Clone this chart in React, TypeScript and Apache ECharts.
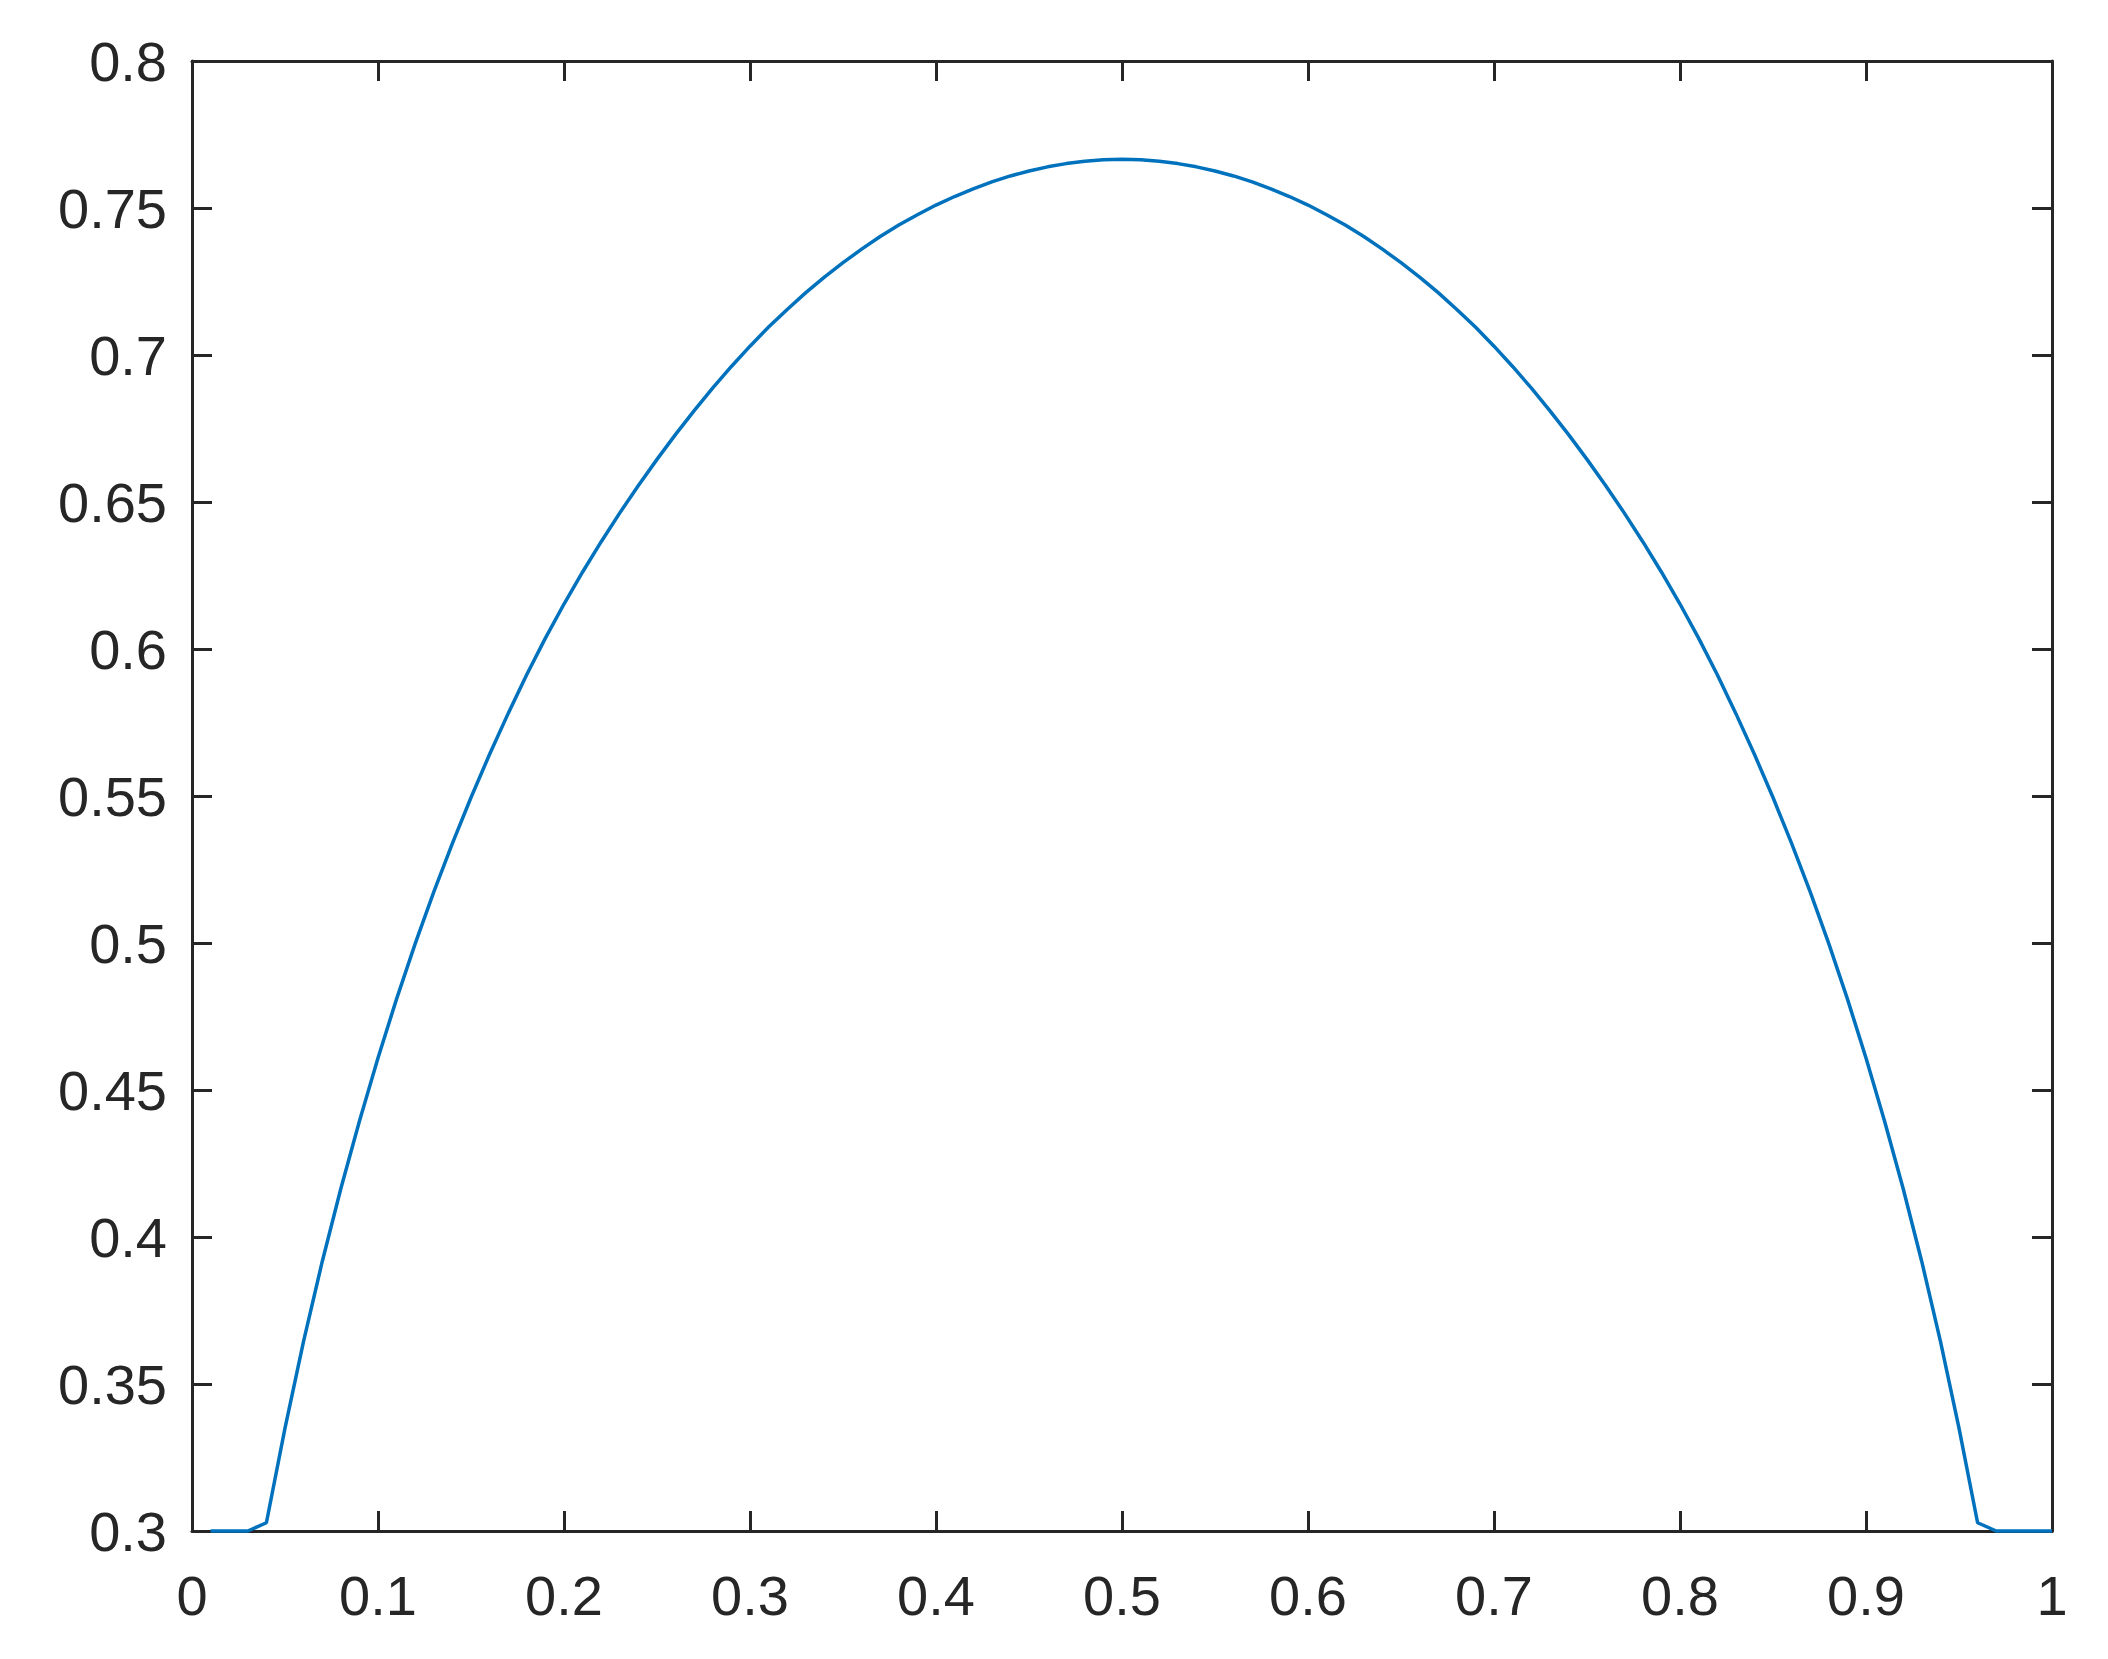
import React, { useEffect, useRef } from "react";
import * as echarts from "echarts";

const xValues = [
  0.01, 0.02, 0.03, 0.04, 0.05, 0.06, 0.07, 0.08, 0.09, 0.1,
  0.11, 0.12, 0.13, 0.14, 0.15, 0.16, 0.17, 0.18, 0.19, 0.2,
  0.21, 0.22, 0.23, 0.24, 0.25, 0.26, 0.27, 0.28, 0.29, 0.3,
  0.31, 0.32, 0.33, 0.34, 0.35, 0.36, 0.37, 0.38, 0.39, 0.4,
  0.41, 0.42, 0.43, 0.44, 0.45, 0.46, 0.47, 0.48, 0.49, 0.5,
  0.51, 0.52, 0.53, 0.54, 0.55, 0.56, 0.57, 0.58, 0.59, 0.6,
  0.61, 0.62, 0.63, 0.64, 0.65, 0.66, 0.67, 0.68, 0.69, 0.7,
  0.71, 0.72, 0.73, 0.74, 0.75, 0.76, 0.77, 0.78, 0.79, 0.8,
  0.81, 0.82, 0.83, 0.84, 0.85, 0.86, 0.87, 0.88, 0.89, 0.9,
  0.91, 0.92, 0.93, 0.94, 0.95, 0.96, 0.97, 0.98, 0.99, 1.0,
];

const yValues = [
  0.3, 0.3, 0.3, 0.3028, 0.335, 0.3646, 0.3916, 0.4164, 0.4394, 0.4609,
  0.481, 0.4998, 0.5174, 0.5339, 0.5495, 0.5642, 0.5781, 0.5913, 0.6037, 0.6153,
  0.6262, 0.6365, 0.6463, 0.6556, 0.6645, 0.673, 0.6811, 0.6888, 0.6961, 0.703,
  0.7095, 0.7155, 0.7212, 0.7265, 0.7314, 0.736, 0.7403, 0.7442, 0.7477, 0.751,
  0.7539, 0.7565, 0.7589, 0.7609, 0.7626, 0.764, 0.7651, 0.7659, 0.7664, 0.7666,
  0.7664, 0.7659, 0.7651, 0.764, 0.7626, 0.7609, 0.7589, 0.7565, 0.7539, 0.751,
  0.7477, 0.7442, 0.7403, 0.736, 0.7314, 0.7265, 0.7212, 0.7155, 0.7095, 0.703,
  0.6961, 0.6888, 0.6811, 0.673, 0.6645, 0.6556, 0.6463, 0.6365, 0.6262, 0.6153,
  0.6037, 0.5913, 0.5781, 0.5642, 0.5495, 0.5339, 0.5174, 0.4998, 0.481, 0.4609,
  0.4394, 0.4164, 0.3916, 0.3646, 0.335, 0.3028, 0.3, 0.3, 0.3, 0.3,
];

const xAxisRange = { min: 0, max: 1, interval: 0.1 };
const yAxisRange = { min: 0.3, max: 0.8, interval: 0.05 };

const AXIS_COLOR = "#262626";
const LINE_COLOR = "#0072BD";
const FONT = "'Liberation Sans', Arial, Helvetica, sans-serif";

export default function App() {
  const ref = useRef<HTMLDivElement>(null);

  useEffect(() => {
    if (!ref.current) return;
    const chart = echarts.init(ref.current, undefined, { renderer: "svg" });

    const axisLine = { show: true, onZero: false, lineStyle: { color: AXIS_COLOR, width: 3 } };
    const axisTick = { show: true, inside: true, length: 20, lineStyle: { color: AXIS_COLOR, width: 3 } };
    const labelStyle = { color: AXIS_COLOR, fontSize: 56, fontFamily: FONT };

    const data = xValues.map((x, i) => [x, yValues[i]]);

    chart.setOption({
      animation: false,
      backgroundColor: "#ffffff",
      grid: { left: 192, top: 61, width: 1860, height: 1470, containLabel: false },
      xAxis: [
        {
          type: "value",
          position: "bottom",
          ...xAxisRange,
          axisLine,
          axisTick,
          splitLine: { show: false },
          axisLabel: { ...labelStyle, margin: 36, formatter: (v: number) => String(Math.round(v * 10) / 10) },
        },
        {
          type: "value",
          position: "top",
          ...xAxisRange,
          axisLine,
          axisTick,
          splitLine: { show: false },
          axisLabel: { show: false },
        },
      ],
      yAxis: [
        {
          type: "value",
          position: "left",
          ...yAxisRange,
          axisLine,
          axisTick,
          splitLine: { show: false },
          axisLabel: { ...labelStyle, margin: 25, formatter: (v: number) => String(Math.round(v * 100) / 100) },
        },
        {
          type: "value",
          position: "right",
          ...yAxisRange,
          axisLine,
          axisTick,
          splitLine: { show: false },
          axisLabel: { show: false },
        },
      ],
      series: [
        {
          type: "line",
          data,
          xAxisIndex: 0,
          yAxisIndex: 0,
          showSymbol: false,
          clip: false,
          lineStyle: { color: LINE_COLOR, width: 3.5 },
          itemStyle: { color: LINE_COLOR },
          z: 5,
        },
      ],
    });

    return () => chart.dispose();
  }, []);

  return (
    <div
      ref={ref}
      style={{ position: "fixed", left: 0, top: 0, width: 2108, height: 1659, background: "#fff" }}
    />
  );
}
